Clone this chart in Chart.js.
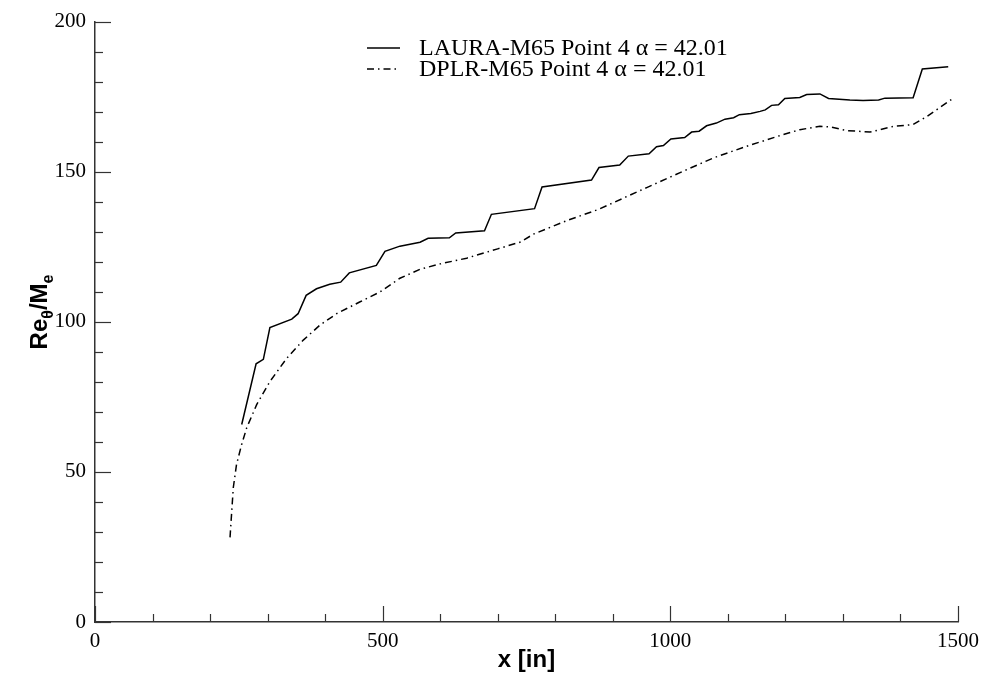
<!DOCTYPE html>
<html>
<head>
<meta charset="utf-8">
<script src="https://cdn.jsdelivr.net/npm/chart.js@4/dist/chart.umd.min.js"></script>
<style>
  html, body { margin: 0; padding: 0; background: #fff; }
  #wrap { width: 987px; height: 685px; }
</style>
</head>
<body>
<div id="wrap"><canvas id="chart"></canvas></div>
<script>
// LAURA-M65 Point 4 (solid)
const lauraX = [255, 280, 292.6, 304, 342, 353, 367, 385, 408, 427, 442, 489, 504, 530, 565, 579, 616, 627, 677, 689,
  764, 777, 863, 876, 912, 927, 963, 976, 988, 1001, 1025, 1037, 1050, 1063, 1080, 1095, 1110, 1120, 1140, 1156,
  1165, 1176, 1188, 1199, 1225, 1237, 1260, 1275, 1312, 1335, 1362, 1373, 1422, 1438, 1483];
const lauraY = [65.8, 86, 87.5, 98.1, 100.9, 102.7, 108.8, 111, 112.5, 113.2, 116.3, 118.8, 123.5, 125.2, 126.5, 127.8, 128, 129.6, 130.3, 135.8,
  137.7, 144.9, 147.2, 151.4, 152.2, 155.2, 156, 158.3, 158.7, 160.9, 161.4, 163.2, 163.5, 165.3, 166.2, 167.5, 168, 169, 169.4, 170.1,
  170.6, 172.1, 172.3, 174.4, 174.7, 175.7, 175.9, 174.4, 173.9, 173.7, 173.9, 174.5, 174.6, 184.2, 185.0];

// DPLR-M65 Point 4 (dash-dot)
const dplrX = [234.7, 240.4, 246, 255, 263.7, 281, 304, 333, 362, 391, 420, 460, 495, 530, 565, 600, 646, 700, 740, 762,
  820, 876, 901, 959, 1017, 1075, 1133, 1190, 1225, 1260, 1278, 1307, 1347, 1388, 1422, 1446, 1492];
const dplrY = [28.2, 44.8, 52.5, 59.2, 64.7, 72.4, 80.1, 87.8, 93.9, 98.9, 102.7, 106.6, 109.9, 114.5, 117.5, 119.3, 121.2, 124.3, 126.6, 129.2,
  133.7, 137.5, 139.7, 144.7, 149.7, 154.6, 158.5, 162, 164, 165.1, 164.9, 163.7, 163.2, 165.1, 165.7, 168.4, 174.5];

const seriesNames = ['LAURA-M65 Point 4 \u03b1 = 42.01', 'DPLR-M65 Point 4 \u03b1 = 42.01'];
const xMajor = [0, 500, 1000, 1500];
const yMajor = [0, 50, 100, 150, 200];

const dashDot = [7, 4, 1.5, 4];
const serif = '"Liberation Serif", "Times New Roman", serif';
const sans = '"Liberation Sans", Arial, sans-serif';

function pts(xs, ys) {
  return xs.map((x, i) => ({ x: x, y: ys[i] }));
}

// inward tick marks, legend and the y title with subscripts
const decor = {
  id: 'decor',
  afterDraw(chart) {
    const ctx = chart.ctx;
    const xs = chart.scales.x, ys = chart.scales.y;
    const area = chart.chartArea;
    ctx.save();
    ctx.strokeStyle = '#333';
    ctx.lineWidth = 1.2;
    xs.ticks.forEach(t => {
      const px = Math.round(xs.getPixelForValue(t.value)) + 0.5;
      const len = xMajor.includes(t.value) ? 16 : 8;
      ctx.beginPath();
      ctx.moveTo(px, area.bottom);
      ctx.lineTo(px, area.bottom - len);
      ctx.stroke();
    });
    ys.ticks.forEach(t => {
      const py = Math.round(ys.getPixelForValue(t.value)) + 0.5;
      const len = yMajor.includes(t.value) ? 16 : 8;
      ctx.beginPath();
      ctx.moveTo(area.left, py);
      ctx.lineTo(area.left + len, py);
      ctx.stroke();
    });

    // legend
    const lx0 = 367, lx1 = 400, tx = 419;
    const rows = [48, 69];
    ctx.fillStyle = '#000';
    ctx.font = '24px ' + serif;
    ctx.textBaseline = 'middle';
    ctx.textAlign = 'left';
    rows.forEach((ry, i) => {
      const ds = chart.data.datasets[i];
      ctx.strokeStyle = ds.borderColor;
      ctx.lineWidth = ds.borderWidth;
      ctx.setLineDash(ds.borderDash || []);
      ctx.beginPath();
      ctx.moveTo(lx0, ry);
      ctx.lineTo(lx1, ry);
      ctx.stroke();
      ctx.setLineDash([]);
      ctx.fillText(seriesNames[i], tx, ry + 1);
    });

    // y title: Re_theta / M_e
    const parts = [
      { t: 'Re', sub: false }, { t: '\u03b8', sub: true },
      { t: '/M', sub: false }, { t: 'e', sub: true }
    ];
    const big = 'bold 24px ' + sans, small = 'bold 16px ' + sans;
    let total = 0;
    parts.forEach(p => { ctx.font = p.sub ? small : big; p.w = ctx.measureText(p.t).width; total += p.w; });
    ctx.translate(47, 312);
    ctx.rotate(-Math.PI / 2);
    ctx.textBaseline = 'alphabetic';
    let cx = -total / 2;
    parts.forEach(p => {
      ctx.font = p.sub ? small : big;
      ctx.fillText(p.t, cx, p.sub ? 6 : 0);
      cx += p.w;
    });
    ctx.restore();
  }
};

new Chart(document.getElementById('chart'), {
  type: 'scatter',
  data: {
    datasets: [
      {
        label: seriesNames[0],
        data: pts(lauraX, lauraY),
        showLine: true,
        borderColor: '#000',
        borderWidth: 1.5,
        pointRadius: 0,
        tension: 0
      },
      {
        label: seriesNames[1],
        data: pts(dplrX, dplrY),
        showLine: true,
        borderColor: '#000',
        borderWidth: 1.5,
        borderDash: dashDot,
        pointRadius: 0,
        tension: 0
      }
    ]
  },
  options: {
    responsive: true,
    maintainAspectRatio: false,
    animation: false,
    layout: { padding: { top: 18, right: 29, bottom: 0, left: 0 } },
    plugins: { legend: { display: false }, tooltip: { enabled: false } },
    scales: {
      x: {
        type: 'linear',
        min: 0,
        max: 1500,
        afterFit: s => { s.height = 63; },
        grid: { display: false, drawTicks: false },
        border: { display: true, color: '#333', width: 1.5 },
        ticks: {
          stepSize: 100,
          autoSkip: false,
          maxRotation: 0,
          padding: 7,
          color: '#000',
          font: { family: serif, size: 21 },
          callback: v => (xMajor.includes(v) ? v : '')
        },
        title: {
          display: true,
          text: 'x [in]',
          color: '#000',
          font: { family: sans, size: 24, weight: 'bold' },
          padding: { top: 0, bottom: 10 }
        }
      },
      y: {
        type: 'linear',
        min: 0,
        max: 200,
        afterFit: s => { s.width = 95; },
        grid: { display: false, drawTicks: false },
        border: { display: true, color: '#333', width: 1.5 },
        ticks: {
          stepSize: 10,
          autoSkip: false,
          padding: 9,
          color: '#000',
          font: { family: serif, size: 21 },
          callback: v => (yMajor.includes(v) ? v : '')
        }
      }
    }
  },
  plugins: [decor]
});
</script>
</body>
</html>
